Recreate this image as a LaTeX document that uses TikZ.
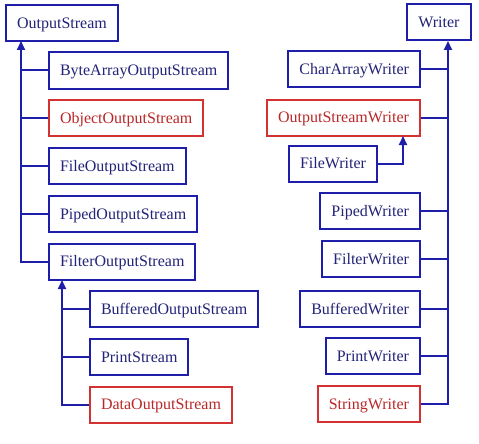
\documentclass[tikz,border=0pt]{standalone}
\usepackage{fontspec}
\setmainfont{Liberation Serif}
\usetikzlibrary{calc,arrows.meta,positioning}

\definecolor{boxblue}{RGB}{30,30,170}
\definecolor{txtblue}{RGB}{35,35,120}
\definecolor{boxred}{RGB}{210,50,50}
\definecolor{txtred}{RGB}{185,40,40}

\tikzset{
    cls/.style={draw=boxblue, text=txtblue, line width=2pt, minimum height=36pt,
        inner xsep=11pt, text height=10.5pt, text depth=0pt,
        font=\fontsize{16}{16}\selectfont},
    redcls/.style={cls, draw=boxred, text=txtred},
    link/.style={boxblue, line width=2pt},
    inherit/.style={link, -{Triangle[width=8pt,length=9pt]}}
}

\begin{document}
\begin{tikzpicture}[x=1pt, y=-1pt]
    \useasboundingbox[fill=white] (0,0) rectangle (479,444);

    % OutputStream family (left)
    \node[cls] (outstream) at (62,23) {OutputStream};
    \node[cls, anchor=west] (bytearrayos) at (48,70.5) {ByteArrayOutputStream};
    \node[redcls, anchor=west] (objectos) at (48,118) {ObjectOutputStream};
    \node[cls, anchor=west] (fileos) at (48,166) {FileOutputStream};
    \node[cls, anchor=west] (pipedos) at (48,214) {PipedOutputStream};
    \node[cls, anchor=west] (filteros) at (48,261.5) {FilterOutputStream};
    \node[cls, anchor=west] (bufferedos) at (89,309) {BufferedOutputStream};
    \node[cls, anchor=west] (printstream) at (89,357) {PrintStream};
    \node[redcls, anchor=west] (dataos) at (89,404.5) {DataOutputStream};

    \coordinate (ostrunk) at (21,41);
    \coordinate (filtertrunk) at (62,280);

    \draw[inherit] (filteros.west) -| (ostrunk);
    \foreach \n in {bytearrayos,objectos,fileos,pipedos}
        \draw[link] (\n.west) -- (\n.west -| ostrunk);

    \draw[inherit] (dataos.west) -| (filtertrunk);
    \foreach \n in {bufferedos,printstream}
        \draw[link] (\n.west) -- (\n.west -| filtertrunk);

    % Writer family (right)
    \node[cls] (writer) at (439,22.5) {Writer};
    \node[cls, anchor=east] (chararrayw) at (421,69) {CharArrayWriter};
    \node[redcls, anchor=east] (oswriter) at (421,117.5) {OutputStreamWriter};
    \node[cls, anchor=west] (filew) at (288,163.5) {FileWriter};
    \node[cls, anchor=east] (pipedw) at (421,211) {PipedWriter};
    \node[cls, anchor=east] (filterw) at (421,259) {FilterWriter};
    \node[cls, anchor=east] (bufferedw) at (421,309) {BufferedWriter};
    \node[cls, anchor=east] (printw) at (421,356) {PrintWriter};
    \node[redcls, anchor=east] (stringw) at (421,404) {StringWriter};

    \coordinate (wtrunk) at (448,41);
    \coordinate (oswfoot) at (403,136);

    \draw[inherit] (stringw.east) -| (wtrunk);
    \foreach \n in {chararrayw,oswriter,pipedw,filterw,bufferedw,printw}
        \draw[link] (\n.east) -- (\n.east -| wtrunk);

    \draw[inherit] (filew.east) -| (oswfoot);
\end{tikzpicture}
\end{document}
